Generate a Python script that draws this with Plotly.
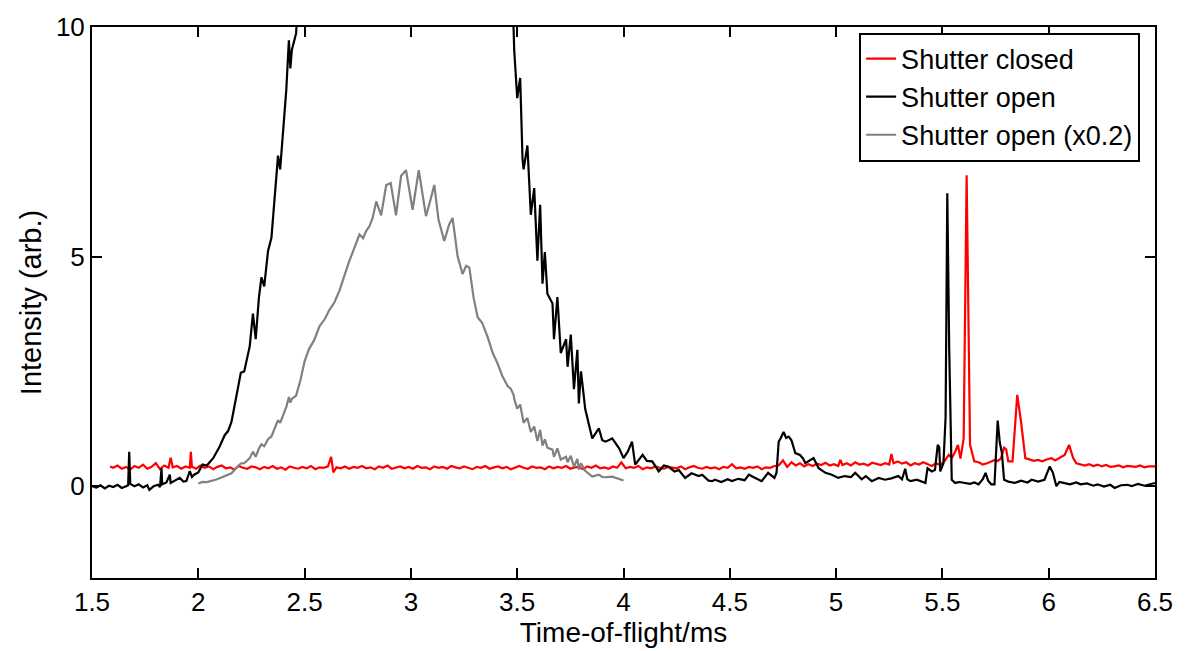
import plotly.graph_objects as go

# ---------------- data ----------------
# Shutter closed (red)
closed_t = [1.585, 1.60, 1.62, 1.64, 1.66, 1.68, 1.70, 1.72, 1.74, 1.76, 1.78, 1.80, 1.82, 1.84, 1.86, 1.87, 1.88,
            1.90, 1.92, 1.94, 1.96, 1.965, 1.97, 1.99, 2.01, 2.03, 2.05, 2.07, 2.09, 2.11, 2.13, 2.15, 2.17, 2.19,
            2.21, 2.23, 2.25, 2.27, 2.29, 2.31, 2.33, 2.35, 2.37, 2.39, 2.41, 2.43, 2.45, 2.47, 2.49, 2.51, 2.53,
            2.55, 2.57, 2.59, 2.61, 2.625, 2.635, 2.65, 2.67, 2.69, 2.71, 2.73, 2.75, 2.77, 2.79, 2.81, 2.83, 2.85,
            2.87, 2.89, 2.91, 2.93, 2.95, 2.97, 2.99, 3.01, 3.03, 3.05, 3.07, 3.09, 3.11, 3.13, 3.15, 3.17, 3.19,
            3.21, 3.23, 3.25, 3.27, 3.29, 3.31, 3.33, 3.35, 3.37, 3.39, 3.41, 3.43, 3.45, 3.47, 3.49, 3.51, 3.53,
            3.55, 3.57, 3.59, 3.61, 3.63, 3.65, 3.67, 3.69, 3.71, 3.73, 3.75, 3.77, 3.79, 3.81, 3.83, 3.85, 3.87,
            3.89, 3.91, 3.93, 3.95, 3.97, 3.99, 4.01, 4.03, 4.05, 4.07, 4.09, 4.11, 4.13, 4.15, 4.17, 4.19, 4.21,
            4.23, 4.25, 4.27, 4.29, 4.31, 4.33, 4.35, 4.37, 4.39, 4.41, 4.43, 4.45, 4.47, 4.49, 4.51, 4.53, 4.55,
            4.57, 4.59, 4.61, 4.63, 4.65, 4.67, 4.69, 4.71, 4.73, 4.75, 4.77, 4.79, 4.81, 4.83, 4.85, 4.87, 4.89,
            4.91, 4.93, 4.95, 4.97, 4.99, 5.01, 5.02, 5.03, 5.05, 5.07, 5.09, 5.11, 5.13, 5.15, 5.17, 5.19, 5.21,
            5.23, 5.25, 5.26, 5.27, 5.29, 5.31, 5.33, 5.35, 5.37, 5.39, 5.41, 5.43, 5.45, 5.47, 5.49, 5.51, 5.53,
            5.545, 5.56, 5.573, 5.585, 5.60, 5.614, 5.63, 5.65, 5.67, 5.69, 5.71, 5.73, 5.747, 5.76, 5.775, 5.79,
            5.80, 5.81, 5.83, 5.852, 5.87, 5.89, 5.91, 5.93, 5.95, 5.97, 5.99, 6.013, 6.03, 6.05, 6.075, 6.096,
            6.115, 6.13, 6.15, 6.17, 6.19, 6.21, 6.23, 6.25, 6.27, 6.29, 6.31, 6.33, 6.35, 6.37, 6.39, 6.41, 6.43,
            6.45, 6.47, 6.50]
closed_i = [0.43, 0.40, 0.45, 0.38, 0.42, 0.36, 0.44, 0.40, 0.47, 0.38, 0.42, 0.50, 0.37, 0.45, 0.40, 0.62, 0.41,
            0.44, 0.38, 0.43, 0.40, 0.75, 0.42, 0.38, 0.45, 0.40, 0.43, 0.37, 0.42, 0.45, 0.39, 0.41, 0.36, 0.44,
            0.40, 0.38, 0.43, 0.41, 0.37, 0.42, 0.39, 0.44, 0.38, 0.41, 0.36, 0.43, 0.40, 0.38, 0.42, 0.39, 0.44,
            0.37, 0.41, 0.40, 0.43, 0.64, 0.30, 0.41, 0.39, 0.43, 0.38, 0.42, 0.40, 0.44, 0.39, 0.41, 0.37, 0.43,
            0.40, 0.45, 0.38, 0.41, 0.43, 0.39, 0.42, 0.38, 0.44, 0.40, 0.41, 0.37, 0.43, 0.40, 0.42, 0.38, 0.44,
            0.41, 0.39, 0.43, 0.40, 0.37, 0.42, 0.40, 0.44, 0.38, 0.41, 0.43, 0.39, 0.42, 0.37, 0.41, 0.44, 0.40,
            0.38, 0.43, 0.40, 0.41, 0.37, 0.43, 0.39, 0.42, 0.40, 0.44, 0.38, 0.41, 0.42, 0.37, 0.43, 0.40, 0.45,
            0.39, 0.41, 0.38, 0.43, 0.40, 0.52, 0.39, 0.42, 0.40, 0.44, 0.37, 0.41, 0.39, 0.43, 0.40, 0.38, 0.42,
            0.41, 0.39, 0.43, 0.37, 0.41, 0.44, 0.40, 0.38, 0.42, 0.39, 0.41, 0.37, 0.42, 0.40, 0.48, 0.39, 0.41,
            0.38, 0.42, 0.40, 0.43, 0.37, 0.41, 0.40, 0.44, 0.45, 0.56, 0.42, 0.52, 0.45, 0.50, 0.43, 0.48, 0.44,
            0.49, 0.46, 0.51, 0.45, 0.48, 0.44, 0.57, 0.46, 0.50, 0.45, 0.52, 0.47, 0.49, 0.45, 0.51, 0.48, 0.46,
            0.50, 0.47, 0.70, 0.50, 0.54, 0.49, 0.52, 0.45, 0.50, 0.47, 0.52, 0.48, 0.44, 0.50, 0.46, 0.55, 0.68,
            0.62, 0.75, 0.90, 0.60, 1.04, 6.77, 0.90, 0.54, 0.52, 0.47, 0.50, 0.53, 0.57, 0.55, 0.60, 0.84,
            0.80, 0.54, 0.54, 1.99, 1.40, 0.61, 0.58, 0.55, 0.57, 0.54, 0.58, 0.61, 0.56, 0.62, 0.68, 0.90,
            0.61, 0.50, 0.47, 0.45, 0.48, 0.44, 0.47, 0.43, 0.46, 0.42, 0.43, 0.45, 0.41, 0.44, 0.43, 0.42, 0.45,
            0.41, 0.43, 0.43]

# Shutter open (black)
open_t = [1.50, 1.52, 1.54, 1.56, 1.58, 1.60, 1.62, 1.64, 1.66, 1.67, 1.675, 1.68, 1.70, 1.72, 1.74, 1.76, 1.77,
          1.79, 1.81, 1.82, 1.827, 1.83, 1.85, 1.866, 1.87, 1.89, 1.913, 1.93, 1.944, 1.96, 1.97, 1.98, 2.00,
          2.02, 2.04, 2.07, 2.085, 2.10, 2.124, 2.14, 2.156, 2.17, 2.18, 2.20, 2.216, 2.23, 2.242, 2.257, 2.27,
          2.285, 2.297, 2.31, 2.328, 2.344, 2.36, 2.375, 2.385, 2.40, 2.414, 2.426, 2.433, 2.44, 2.46, 2.48,
          2.50, 2.52, 2.545, 2.57, 2.595, 2.617, 2.64, 2.664, 2.69, 2.71, 2.735, 2.758, 2.775, 2.79, 2.805,
          2.82, 2.837, 2.86, 2.884, 2.905, 2.93, 2.954, 2.977, 3.008, 3.037, 3.071, 3.09, 3.11, 3.13, 3.157,
          3.18, 3.196, 3.22, 3.243, 3.26, 3.275, 3.295, 3.314, 3.335, 3.36, 3.385, 3.407, 3.43, 3.455, 3.47,
          3.483, 3.486, 3.494, 3.50, 3.514, 3.525, 3.53, 3.548, 3.564, 3.58, 3.595, 3.608, 3.619, 3.63, 3.642,
          3.666, 3.673, 3.689, 3.705, 3.73, 3.737, 3.752, 3.767, 3.783, 3.79, 3.80, 3.82, 3.853, 3.884, 3.90,
          3.916, 3.947, 3.98, 4.00, 4.02, 4.04, 4.055, 4.09, 4.11, 4.135, 4.166, 4.19, 4.21, 4.24, 4.26, 4.29,
          4.32, 4.354, 4.37, 4.40, 4.417, 4.43, 4.46, 4.49, 4.51, 4.54, 4.57, 4.59, 4.62, 4.65, 4.68, 4.71,
          4.72, 4.73, 4.74, 4.753, 4.765, 4.777, 4.79, 4.808, 4.83, 4.845, 4.855, 4.875, 4.894, 4.918, 4.95,
          4.98, 5.01, 5.04, 5.07, 5.09, 5.12, 5.14, 5.168, 5.20, 5.23, 5.26, 5.293, 5.31, 5.325, 5.335, 5.35,
          5.38, 5.40, 5.42, 5.43, 5.45, 5.465, 5.478, 5.485, 5.49, 5.505, 5.515, 5.523, 5.532, 5.544, 5.56,
          5.58, 5.607, 5.63, 5.65, 5.67, 5.69, 5.703, 5.715, 5.73, 5.745, 5.76, 5.77, 5.78, 5.79, 5.81, 5.84,
          5.87, 5.90, 5.92, 5.95, 5.98, 6.005, 6.02, 6.036, 6.05, 6.07, 6.10, 6.13, 6.15, 6.18, 6.21, 6.23,
          6.26, 6.29, 6.31, 6.34, 6.37, 6.39, 6.42, 6.45, 6.47, 6.50]
open_i = [0.00, -0.03, 0.02, -0.05, 0.01, -0.02, 0.03, -0.04, 0.00, 0.02, 0.75, 0.05, 0.00, 0.04, -0.03, 0.02, -0.08,
          0.00, 0.03, -0.02, 0.39, 0.04, 0.08, 0.25, 0.07, 0.12, 0.18, 0.10, 0.11, 0.33, 0.20, 0.25, 0.30,
          0.47, 0.45, 0.61, 0.72, 0.86, 1.11, 1.20, 1.40, 1.75, 2.04, 2.47, 2.50, 2.80, 3.05, 3.76, 3.20,
          4.10, 4.55, 4.35, 5.12, 5.41, 6.27, 7.20, 6.90, 7.85, 8.64, 9.71, 9.10, 9.50, 9.86, 11.5,
          13.6, 14.9, 15.9, 17.4, 18.2, 19.2, 20.0, 21.3, 23.2, 24.5, 26.0, 27.4, 27.0, 27.8, 28.3,
          29.2, 31.0, 29.5, 32.8, 33.0, 29.5, 33.8, 34.4, 30.1, 34.4, 29.4, 31.0, 32.8, 29.0, 26.7,
          28.5, 29.2, 25.0, 23.1, 24.0, 23.8, 20.5, 18.4, 17.8, 16.3, 14.5, 13.4, 12.0, 10.9, 10.6,
          9.96, 9.50, 9.00, 8.45, 8.89, 7.13, 6.90, 7.42, 5.91, 6.49, 4.91, 6.13, 4.41, 5.10, 4.19,
          3.98, 3.20, 4.12, 2.90, 3.20, 2.60, 3.30, 2.11, 2.97, 1.80, 2.50, 1.68, 1.04, 1.26, 1.00,
          0.97, 1.04, 0.82, 0.61, 0.75, 0.97, 0.47, 0.68, 0.55, 0.54, 0.32, 0.45, 0.43, 0.32, 0.35, 0.18,
          0.28, 0.22, 0.25, 0.12, 0.11, 0.14, 0.09, 0.15, 0.11, 0.16, 0.13, 0.25, 0.18, 0.11, 0.29, 0.18,
          0.30, 0.97, 1.05, 1.18, 1.05, 1.08, 1.00, 0.72, 0.68, 0.60, 0.50, 0.55, 0.61, 0.39, 0.29,
          0.25, 0.18, 0.22, 0.20, 0.29, 0.15, 0.22, 0.11, 0.18, 0.14, 0.17, 0.22, 0.15, 0.38, 0.15, 0.11,
          0.14, 0.10, 0.07, 0.39, 0.32, 0.35, 0.90, 0.85, 0.32, 0.50, 1.50, 6.38, 3.00, 0.14, 0.07,
          0.09, 0.07, 0.05, 0.08, 0.04, 0.15, 0.29, 0.12, 0.04, 0.04, 1.43, 0.95, 0.72, 0.14, 0.10, 0.07,
          0.12, 0.08, 0.14, 0.10, 0.14, 0.43, 0.29, 0.00, 0.09, 0.07, 0.04, 0.08, 0.04, 0.06, 0.01, 0.04,
          -0.01, 0.03, -0.04, 0.02, 0.03, 0.00, 0.05, 0.01, 0.04, 0.07]

# Shutter open (x0.2): the same measurement, scaled, shown between 2 and 4 ms
scale_factor = 0.2
scaled_range = (2.0, 4.0)
scaled_t = [t for t in open_t if scaled_range[0] <= t <= scaled_range[1]]
scaled_i = [v * scale_factor for t, v in zip(open_t, open_i) if scaled_range[0] <= t <= scaled_range[1]]

x_ticks = [1.5, 2, 2.5, 3, 3.5, 4, 4.5, 5, 5.5, 6, 6.5]
y_ticks = [0, 5, 10]

# ---------------- figure ----------------
FONT = "Liberation Sans, Arial, sans-serif"
fig = go.Figure()
fig.add_trace(go.Scatter(x=closed_t, y=closed_i, mode="lines", name="Shutter closed",
                         line=dict(color="#ff0000", width=2.2)))
fig.add_trace(go.Scatter(x=open_t, y=open_i, mode="lines", name="Shutter open",
                         line=dict(color="#000000", width=2.2)))
fig.add_trace(go.Scatter(x=scaled_t, y=scaled_i, mode="lines", name="Shutter open (x0.2)",
                         line=dict(color="#808080", width=2.2)))

axis_common = dict(showline=True, linecolor="black", linewidth=2, mirror="ticks",
                   ticks="inside", ticklen=10, tickwidth=1.5, tickcolor="black",
                   showgrid=False, zeroline=False,
                   tickfont=dict(family=FONT, size=26, color="black"))

fig.update_xaxes(range=[1.5, 6.5], tickvals=x_ticks, ticktext=[str(v) for v in x_ticks],
                 title=dict(text="Time-of-flight/ms", font=dict(family=FONT, size=28, color="black"),
                            standoff=2),
                 **axis_common)
fig.update_yaxes(range=[-2, 10], tickvals=y_ticks, ticktext=[str(v) for v in y_ticks],
                 title=dict(text="Intensity (arb.)", font=dict(family=FONT, size=29, color="black"),
                            standoff=6),
                 **axis_common)

fig.update_layout(
    width=1185, height=651,
    margin=dict(l=92, r=28, t=20, b=73),
    paper_bgcolor="white", plot_bgcolor="white",
    font=dict(family=FONT, size=26, color="black"),
    legend=dict(x=0.986, y=0.99, xanchor="right", yanchor="top",
                bgcolor="white", bordercolor="black", borderwidth=2,
                tracegroupgap=0,
                font=dict(family=FONT, size=27, color="black")),
    showlegend=True,
)

fig.write_html("out.html")
